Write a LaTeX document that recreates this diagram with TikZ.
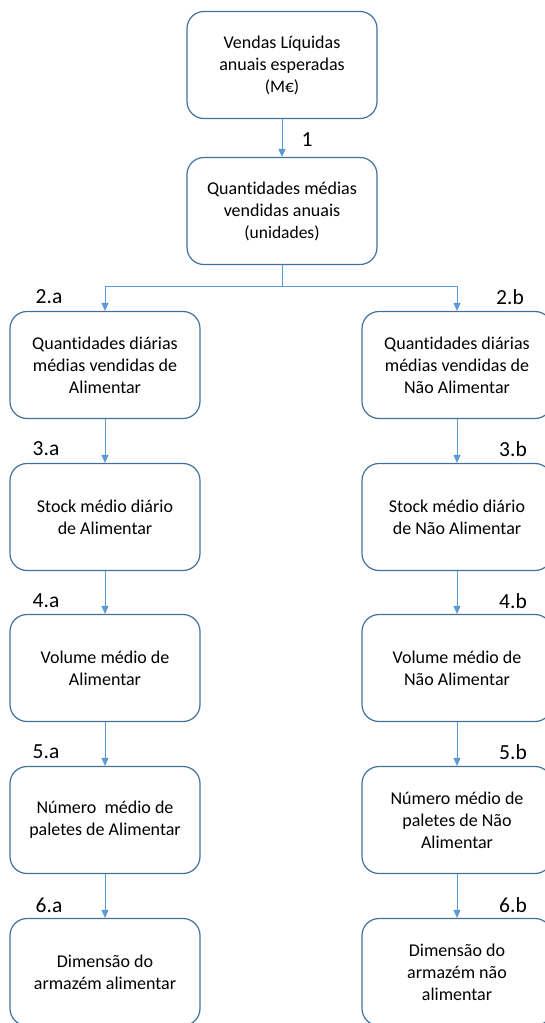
\documentclass[tikz,border=0pt]{standalone}
\usepackage{fontspec}
\setmainfont{Carlito}[Ligatures={NoCommon}]
\usepackage{tikz}
\usetikzlibrary{arrows.meta}
\definecolor{boxblue}{RGB}{65,113,156}
\definecolor{linkblue}{RGB}{91,155,213}

\begin{document}
\begin{tikzpicture}[x=1pt,y=-1pt]
        \tikzset{stage/.style = {shape=rectangle,rounded corners=17pt,draw=boxblue,line width=1.2pt,
                                 minimum width=190pt,minimum height=107pt,align=center,
                                 font=\fontsize{18}{22}\selectfont}}
        \tikzset{link/.style = {draw=linkblue,line width=1pt,-{Triangle[length=8pt,width=7pt]}}}
        \tikzset{plain/.style = {draw=linkblue,line width=1pt}}
        \tikzset{stepnum/.style = {font=\fontsize{21.5}{24}\selectfont}}
        \useasboundingbox (0,0) rectangle (545,1023);
        % top
        \node[stage] (vendas) at (282,65) {Vendas Líquidas\\anuais esperadas\\{\fontsize{17.5}{22}\selectfont (M€)}};
        \node[stage] (quant) at (282,211) {Quantidades médias\\vendidas anuais\\{\fontsize{17.5}{22}\selectfont (unidades)}};
        \coordinate (split) at (282,286);
        % left column
        \node[stage] (qa) at (105,365) {Quantidades diárias\\médias vendidas de\\Alimentar};
        \node[stage] (sa) at (105,517) {Stock médio diário\\de Alimentar};
        \node[stage] (va) at (105,668) {Volume médio de\\Alimentar};
        \node[stage] (pa) at (105,820) {Número\ \ médio de\\paletes de Alimentar};
        \node[stage] (da) at (105,972) {Dimensão do\\armazém alimentar};
        % right column
        \node[stage] (qb) at (457,365) {Quantidades diárias\\médias vendidas de\\Não Alimentar};
        \node[stage] (sb) at (457,517) {Stock médio diário\\de Não Alimentar};
        \node[stage] (vb) at (457,668) {Volume médio de\\Não Alimentar};
        \node[stage] (pb) at (457,820) {Número médio de\\paletes de Não\\Alimentar};
        \node[stage] (db) at (457,972) {Dimensão do\\armazém não\\alimentar};
        % step numbers
        \node[stepnum] (n1) at (307,140) {1};
        \node[stepnum] (n2a) at (49,297) {2.a};
        \node[stepnum] (n2b) at (510,297) {2.b};
        \node[stepnum] (n3a) at (46,449) {3.a};
        \node[stepnum] (n3b) at (513,449) {3.b};
        \node[stepnum] (n4a) at (46,601) {4.a};
        \node[stepnum] (n4b) at (513,601) {4.b};
        \node[stepnum] (n5a) at (46,752) {5.a};
        \node[stepnum] (n5b) at (513,752) {5.b};
        \node[stepnum] (n6a) at (49,905) {6.a};
        \node[stepnum] (n6b) at (513,905) {6.b};
        % links
        \draw[link] (vendas) to (quant);
        \draw[plain] (quant) to (split);
        \draw[link] (split) -| (qa);
        \draw[link] (split) -| (qb);
        \draw[link] (qa) to (sa);
        \draw[link] (sa) to (va);
        \draw[link] (va) to (pa);
        \draw[link] (pa) to (da);
        \draw[link] (qb) to (sb);
        \draw[link] (sb) to (vb);
        \draw[link] (vb) to (pb);
        \draw[link] (pb) to (db);
\end{tikzpicture}
\end{document}
